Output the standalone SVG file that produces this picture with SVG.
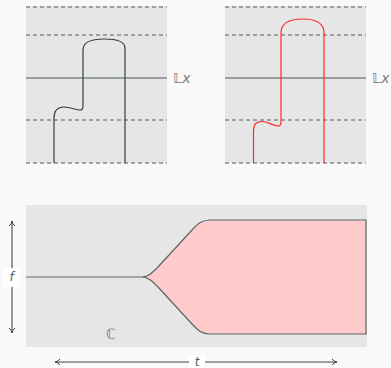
<svg xmlns="http://www.w3.org/2000/svg" width="391" height="368" viewBox="0 0 391 368">
<defs>
<style>
.bg{fill:#e6e6e6}
.dash{stroke:#858a8c;stroke-width:1.3;stroke-dasharray:4,3;fill:none}
.axis{stroke:#7c8686;stroke-width:1.6;fill:none}
.curve{stroke:#34403f;stroke-width:1.2;fill:none}
.red{stroke:#ff2a2a;stroke-width:1.2;fill:none}
.lbl{font-family:"DejaVu Sans",sans-serif;font-size:14px;fill:#7a7a7a}
.var{font-family:"DejaVu Sans",sans-serif;font-style:italic;font-size:12px;fill:#555e5e}
.arr{stroke:#3d4a4a;stroke-width:1.1;fill:none}
</style>
<marker id="ah" viewBox="0 0 8 8" refX="7" refY="4" markerWidth="8" markerHeight="8" markerUnits="userSpaceOnUse" orient="auto-start-reverse">
<path d="M2,1 Q4,3.5 7,4 Q4,4.5 2,7" fill="none" stroke="#3d4a4a" stroke-width="1"/>
</marker>
</defs>
<rect width="391" height="368" fill="#f9f9f9"/>
<g id="panel-left">
<rect class="bg" x="26" y="6" width="141" height="157"/>
<line class="dash" x1="26" y1="7" x2="167" y2="7"/>
<line class="dash" x1="26" y1="35" x2="167" y2="35"/>
<line class="dash" x1="26" y1="120" x2="167" y2="120"/>
<line class="dash" x1="26" y1="163" x2="167" y2="163"/>
<line class="axis" x1="26" y1="78" x2="167" y2="78"/>
<text class="lbl" x="173" y="83">𝕃<tspan font-style="italic">x</tspan></text>
<path class="curve" d="M54,163 L54,118 C54,110 58,107 64,107 C70,107 76,110 80,110 C83,110 83,108 83,104 L83,50 C83,42 90,39 104,39 C118,39 125,42 125,48 L125,163"/>
</g>
<g id="panel-right">
<rect class="bg" x="225" y="6" width="141" height="157"/>
<line class="dash" x1="225" y1="7" x2="366" y2="7"/>
<line class="dash" x1="225" y1="35" x2="366" y2="35"/>
<line class="dash" x1="225" y1="120" x2="366" y2="120"/>
<line class="dash" x1="225" y1="163" x2="366" y2="163"/>
<line class="axis" x1="225" y1="78" x2="366" y2="78"/>
<text class="lbl" x="372" y="83">𝕃<tspan font-style="italic">x</tspan></text>
<path class="red" d="M253.5,163 L253.5,132 C253.5,124 256,121.5 262,121.5 C268,121.5 273,126 278,126 C281,126 281,124 281,120 L281,33 C281,24 288,19 302.5,19 C317,19 324,24 324,33 L324,163"/>
</g>
<g id="panel-bottom">
<rect class="bg" x="26" y="205" width="341" height="142"/>
<path d="M142,277 C148,277 152,273 158,267 L192,230 C198,223.5 202,220 210,220 L366,220 L366,334 L210,334 C202,334 198,330.5 192,324 L158,287 C152,281 148,277 142,277 Z" fill="#ffcaca" stroke="#5a6666" stroke-width="1.2"/>
<line x1="26" y1="277" x2="142" y2="277" stroke="#5a6666" stroke-width="1.2"/>
<text class="lbl" x="111" y="339" text-anchor="middle" font-size="15">ℂ</text>
</g>
<g id="connectors">
<line class="arr" x1="12" y1="221" x2="12" y2="333" marker-start="url(#ah)" marker-end="url(#ah)"/>
<line class="arr" x1="55" y1="362" x2="337" y2="362" marker-start="url(#ah)" marker-end="url(#ah)"/>
</g>
<g id="label-f">
<rect x="3" y="268" width="17" height="19" fill="#ffffff"/>
<text class="var" x="11.5" y="281" text-anchor="middle">f</text>
</g>
<g id="label-t">
<rect x="189" y="355" width="16" height="13" fill="#ffffff"/>
<text class="var" x="197" y="365.5" text-anchor="middle">t</text>
</g>
</svg>
